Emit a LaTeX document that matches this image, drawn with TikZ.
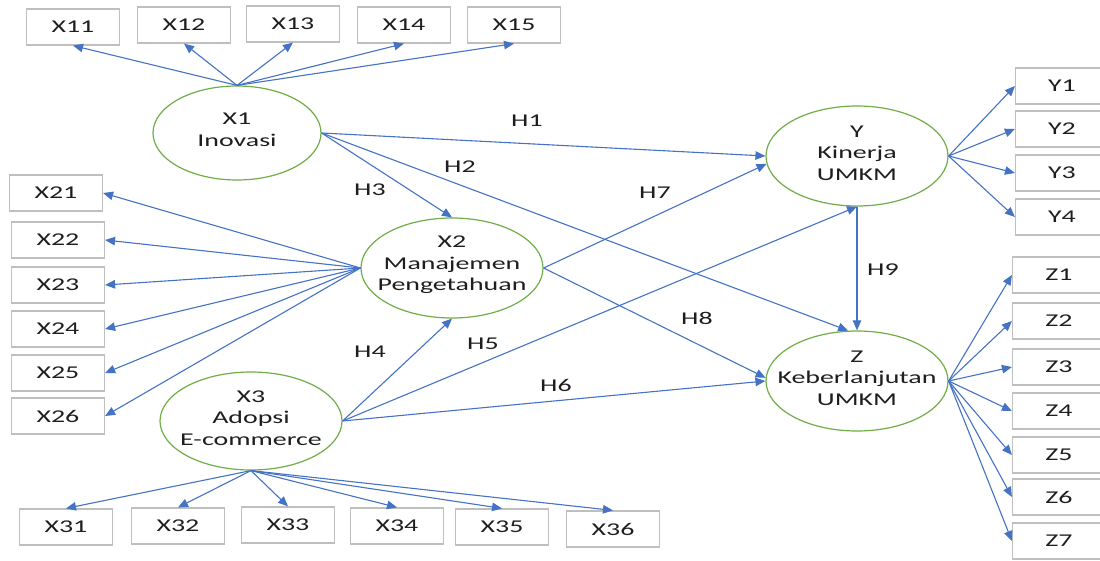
\documentclass[tikz,border=0pt]{standalone}
\usepackage{fontspec}
\setmainfont{Carlito}[FakeStretch=1.55]
\usetikzlibrary{shapes.geometric, arrows.meta}
\definecolor{indgrey}{RGB}{191, 191, 191}
\definecolor{latgreen}{RGB}{112, 173, 71}
\definecolor{pathblue}{RGB}{68, 114, 196}
\definecolor{textdark}{RGB}{30, 30, 30}

\begin{document}
\begin{tikzpicture}[x=1pt, y=-1pt,
  ind/.style={draw=indgrey, fill=white, line width=1.2pt, minimum width=93pt, minimum height=36pt, inner sep=0pt, font=\fontsize{18}{21.5}\selectfont, text=textdark},
  lat/.style={ellipse, draw=latgreen, line width=1.2pt, minimum width=182pt, minimum height=100pt, inner sep=0pt, label={[lattext]center:#1}},
  lattext/.style={align=center, font=\fontsize{18}{21.5}\selectfont, text=textdark, yshift=3pt},
  hyp/.style={font=\fontsize{18}{21.5}\selectfont, text=textdark, inner sep=1pt},
  arr/.style={-{Triangle[length=10pt, width=8.5pt]}, line width=1.1pt, pathblue},
]
  \clip (0, 0) rectangle (1100, 561);

  % Latent variables
  \node[lat={X1\\Inovasi}, minimum width=168pt, minimum height=94pt] (x1) at (237, 133) {};
  \node[lat={X2\\Manajemen\\Pengetahuan}] (x2) at (452, 268) {};
  \node[lat={X3\\Adopsi\\E-commerce}, minimum height=98pt] (x3) at (251, 421) {};
  \node[lat={Y\\Kinerja\\UMKM}] (y) at (857, 156) {};
  \node[lat={Z\\Keberlanjutan\\UMKM}] (z) at (857, 381) {};

  % Indicators of X1
  \node[ind] (x11) at (73, 27) {X11};
  \node[ind] (x12) at (184, 25) {X12};
  \node[ind] (x13) at (293, 24) {X13};
  \node[ind] (x14) at (404, 25) {X14};
  \node[ind] (x15) at (514, 25) {X15};

  % Indicators of X2
  \node[ind] (x21) at (56, 193) {X21};
  \node[ind] (x22) at (58, 240) {X22};
  \node[ind] (x23) at (58, 285) {X23};
  \node[ind] (x24) at (58, 329) {X24};
  \node[ind] (x25) at (58, 373) {X25};
  \node[ind] (x26) at (58, 416) {X26};

  % Indicators of X3
  \node[ind] (x31) at (66, 527) {X31};
  \node[ind] (x32) at (178, 526) {X32};
  \node[ind] (x33) at (288, 525) {X33};
  \node[ind] (x34) at (397, 526) {X34};
  \node[ind] (x35) at (502, 527) {X35};
  \node[ind] (x36) at (613, 529) {X36};

  % Indicators of Y and Z
  \node[ind] (y1) at (1062, 86) {Y1};
  \node[ind] (y2) at (1062, 129) {Y2};
  \node[ind] (y3) at (1062, 173) {Y3};
  \node[ind] (y4) at (1062, 217) {Y4};
  \node[ind] (z1) at (1059, 275) {Z1};
  \node[ind] (z2) at (1059, 321) {Z2};
  \node[ind] (z3) at (1059, 367) {Z3};
  \node[ind] (z4) at (1059, 411) {Z4};
  \node[ind] (z5) at (1059, 455) {Z5};
  \node[ind] (z6) at (1059, 497) {Z6};
  \node[ind] (z7) at (1059, 541) {Z7};

  % Hypothesis labels
  \node[hyp] (h1) at (527, 121) {H1};
  \node[hyp] (h2) at (460, 167) {H2};
  \node[hyp] (h3) at (370, 190) {H3};
  \node[hyp] (h4) at (370, 352) {H4};
  \node[hyp] (h5) at (483, 344) {H5};
  \node[hyp] (h6) at (556, 385) {H6};
  \node[hyp] (h7) at (655, 193) {H7};
  \node[hyp] (h8) at (697, 318) {H8};
  \node[hyp] (h9) at (883, 270) {H9};

  % Loadings
  \draw[arr] (x1.north) -- (x11.south);
  \draw[arr] (x1.north) -- (x12.south);
  \draw[arr] (x1.north) -- (x13.south);
  \draw[arr] (x1.north) -- (x14.south);
  \draw[arr] (x1.north) -- (x15.south);
  \draw[arr] (x2.west) -- (x21.east);
  \draw[arr] (x2.west) -- (x22.east);
  \draw[arr] (x2.west) -- (x23.east);
  \draw[arr] (x2.west) -- (x24.east);
  \draw[arr] (x2.west) -- (x25.east);
  \draw[arr] (x2.west) -- (x26.east);
  \draw[arr] (x3.south) -- (x31.north);
  \draw[arr] (x3.south) -- (x32.north);
  \draw[arr] (x3.south) -- (x33.north);
  \draw[arr] (x3.south) -- (x34.north);
  \draw[arr] (x3.south) -- (x35.north);
  \draw[arr] (x3.south) -- (x36.north);
  \draw[arr] (y.east) -- (y1.west);
  \draw[arr] (y.east) -- (y2.west);
  \draw[arr] (y.east) -- (y3.west);
  \draw[arr] (y.east) -- (y4.west);
  \draw[arr] (z.east) -- (z1.west);
  \draw[arr] (z.east) -- (z2.west);
  \draw[arr] (z.east) -- (z3.west);
  \draw[arr] (z.east) -- (z4.west);
  \draw[arr] (z.east) -- (z5.west);
  \draw[arr] (z.east) -- (z6.west);
  \draw[arr] (z.east) -- (z7.west);

  % Paths
  \draw[arr] (x1.east) -- (y.west);
  \draw[arr] (x1.east) -- (z.100);
  \draw[arr] (x1.east) -- (x2.north);
  \draw[arr] (x3.east) -- (x2.south);
  \draw[arr] (x3.east) -- (y.south);
  \draw[arr] (x3.east) -- (z.west);
  \draw[arr] (x2.east) -- (y.185);
  \draw[arr] (x2.east) -- (z.178);
  \draw[arr] (y.south) -- (z.north);
\end{tikzpicture}
\end{document}
